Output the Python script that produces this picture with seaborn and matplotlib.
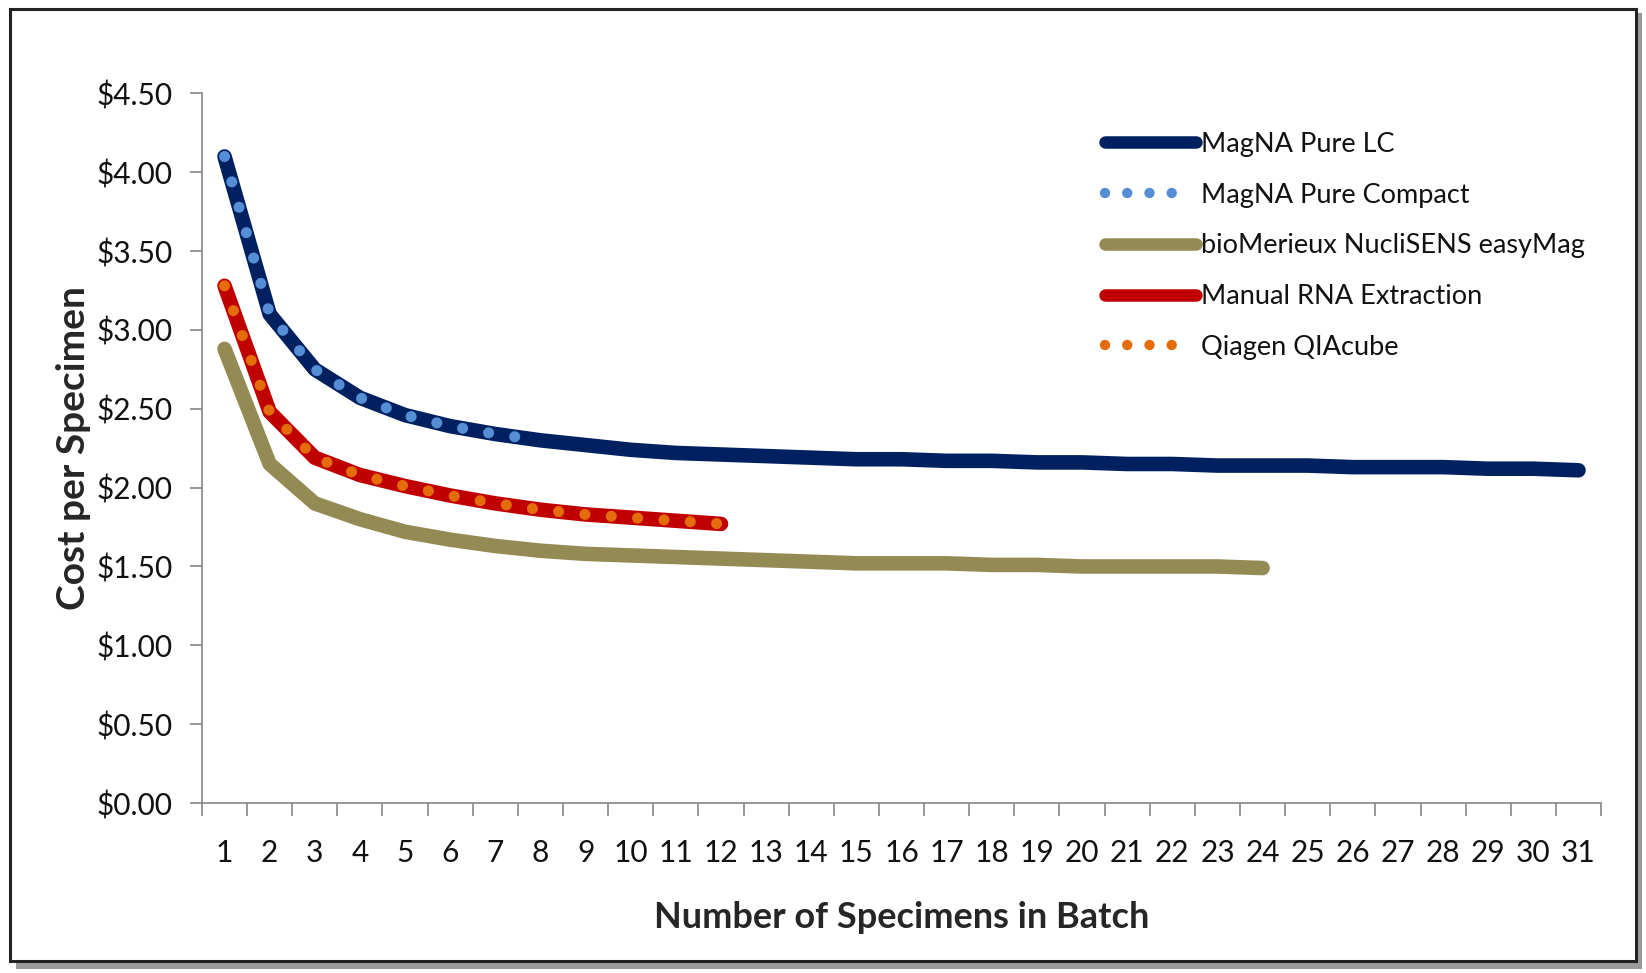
import matplotlib
matplotlib.use("Agg")
import matplotlib.pyplot as plt
import seaborn as sns
import numpy as np
from matplotlib.lines import Line2D
from matplotlib.patches import Rectangle
from matplotlib.ticker import FuncFormatter, FixedLocator

# ---------------- data ----------------
batch_sizes = list(range(1, 32))
x_tick_labels = [str(i) for i in batch_sizes]
y_ticks = [0.0, 0.5, 1.0, 1.5, 2.0, 2.5, 3.0, 3.5, 4.0, 4.5]

magna_pure_lc = [4.10, 3.10, 2.75, 2.57, 2.46, 2.39, 2.34, 2.30, 2.27, 2.24,
                 2.22, 2.21, 2.20, 2.19, 2.18, 2.18, 2.17, 2.17, 2.16, 2.16,
                 2.15, 2.15, 2.14, 2.14, 2.14, 2.13, 2.13, 2.13, 2.12, 2.12, 2.11]
magna_pure_compact = [4.10, 3.10, 2.75, 2.57, 2.46, 2.39, 2.34, 2.30]
easymag = [2.88, 2.15, 1.90, 1.80, 1.72, 1.67, 1.63, 1.60, 1.58, 1.57,
           1.56, 1.55, 1.54, 1.53, 1.52, 1.52, 1.52, 1.51, 1.51, 1.50,
           1.50, 1.50, 1.50, 1.49]
manual_rna = [3.28, 2.48, 2.19, 2.08, 2.01, 1.95, 1.90, 1.86, 1.83, 1.81, 1.79, 1.77]
qiagen_qiacube = [3.28, 2.48, 2.19, 2.08, 2.01, 1.95, 1.90, 1.86, 1.83, 1.81, 1.79, 1.77]

series_names = ["MagNA Pure LC", "MagNA Pure Compact", "bioMerieux NucliSENS easyMag",
                "Manual RNA Extraction", "Qiagen QIAcube"]

# ---------------- style ----------------
sns.set_theme(style="white")
plt.rcParams['font.family'] = ['Lato', 'DejaVu Sans']
plt.rcParams['lines.scale_dashes'] = False
plt.rcParams['text.color'] = '#111111'

c_lc = "#002060"
c_compact = "#558ED5"
c_easy = "#948A54"
c_manual = "#C00000"
c_qiagen = "#E46C0A"

fig = plt.figure(figsize=(16.46, 9.73), dpi=100)
ax = fig.add_axes([0.1227, 0.1747, 0.85, 0.7293])

solid_kw = dict(linewidth=10.5, solid_capstyle="round", solid_joinstyle="round")
dot_kw = dict(linewidth=8.0, dash_capstyle="round", linestyle=(0, (0.01, 19.0)))

sns.lineplot(x=batch_sizes[:len(easymag)], y=easymag, ax=ax, color=c_easy, **solid_kw)
sns.lineplot(x=batch_sizes[:len(manual_rna)], y=manual_rna, ax=ax, color=c_manual, **solid_kw)
sns.lineplot(x=batch_sizes[:len(qiagen_qiacube)], y=qiagen_qiacube, ax=ax, color=c_qiagen, **dot_kw)
sns.lineplot(x=batch_sizes[:len(magna_pure_lc)], y=magna_pure_lc, ax=ax, color=c_lc, **solid_kw)
sns.lineplot(x=batch_sizes[:len(magna_pure_compact)], y=magna_pure_compact, ax=ax, color=c_compact, **dot_kw)

ax.set_xlim(0.5, 31.5)
ax.set_ylim(0, 4.5)

# x axis: tick marks between categories, labels at category centres
ax.xaxis.set_major_locator(FixedLocator(np.arange(0.5, 32, 1.0)))
ax.xaxis.set_major_formatter(FuncFormatter(lambda v, p: ""))
ax.set_xticks(batch_sizes, labels=x_tick_labels, minor=True)
ax.tick_params(axis="x", which="major", direction="out", length=9, width=1.2,
               color="#868686", bottom=True)
ax.tick_params(axis="x", which="minor", length=0, pad=26, labelsize=21.5,
               labelcolor="#111111")

ax.set_yticks(y_ticks)
ax.yaxis.set_major_formatter(FuncFormatter(lambda v, p: f"${v:.2f}"))
ax.tick_params(axis="y", which="major", direction="out", length=9, width=1.2,
               color="#868686", left=True, pad=12, labelsize=21.5, labelcolor="#111111")

for side in ["top", "right"]:
    ax.spines[side].set_visible(False)
for side in ["left", "bottom"]:
    ax.spines[side].set_color("#868686")
    ax.spines[side].set_linewidth(1.2)

ax.set_xlabel("Number of Specimens in Batch", fontsize=26, fontweight="bold")
ax.xaxis.set_label_coords(0.5, -0.138)
ax.set_ylabel("Cost per Specimen", fontsize=28, fontweight="bold")
ax.yaxis.set_label_coords(-0.079, 0.5)

four_dots = (0, (0.01, 16, 0.01, 16, 0.01, 16, 0.01, 60))
handles = [
    Line2D([0], [0], color=c_lc, linewidth=9, solid_capstyle="round"),
    Line2D([0], [0], color=c_compact, linewidth=7.5, dash_capstyle="round",
           linestyle=four_dots),
    Line2D([0], [0], color=c_easy, linewidth=9, solid_capstyle="round"),
    Line2D([0], [0], color=c_manual, linewidth=9, solid_capstyle="round"),
    Line2D([0], [0], color=c_qiagen, linewidth=7.5, dash_capstyle="round",
           linestyle=four_dots),
]
leg = ax.legend(handles, series_names, loc="upper left",
                bbox_to_anchor=(0.628, 0.98), frameon=False, fontsize=19.5,
                handlelength=3.35, handletextpad=0.2, labelspacing=0.95)

# outer chart frame with shadow
fig.patches.append(Rectangle((0.0095, 0.004), 0.988, 0.983, transform=fig.transFigure,
                             facecolor="#9a9a9a", edgecolor="none", zorder=-3))
fig.patches.append(Rectangle((0.006, 0.012), 0.988, 0.979, transform=fig.transFigure,
                             facecolor="white", edgecolor="#222222", linewidth=2.2, zorder=-2))

fig.savefig("out.png", dpi=100)
